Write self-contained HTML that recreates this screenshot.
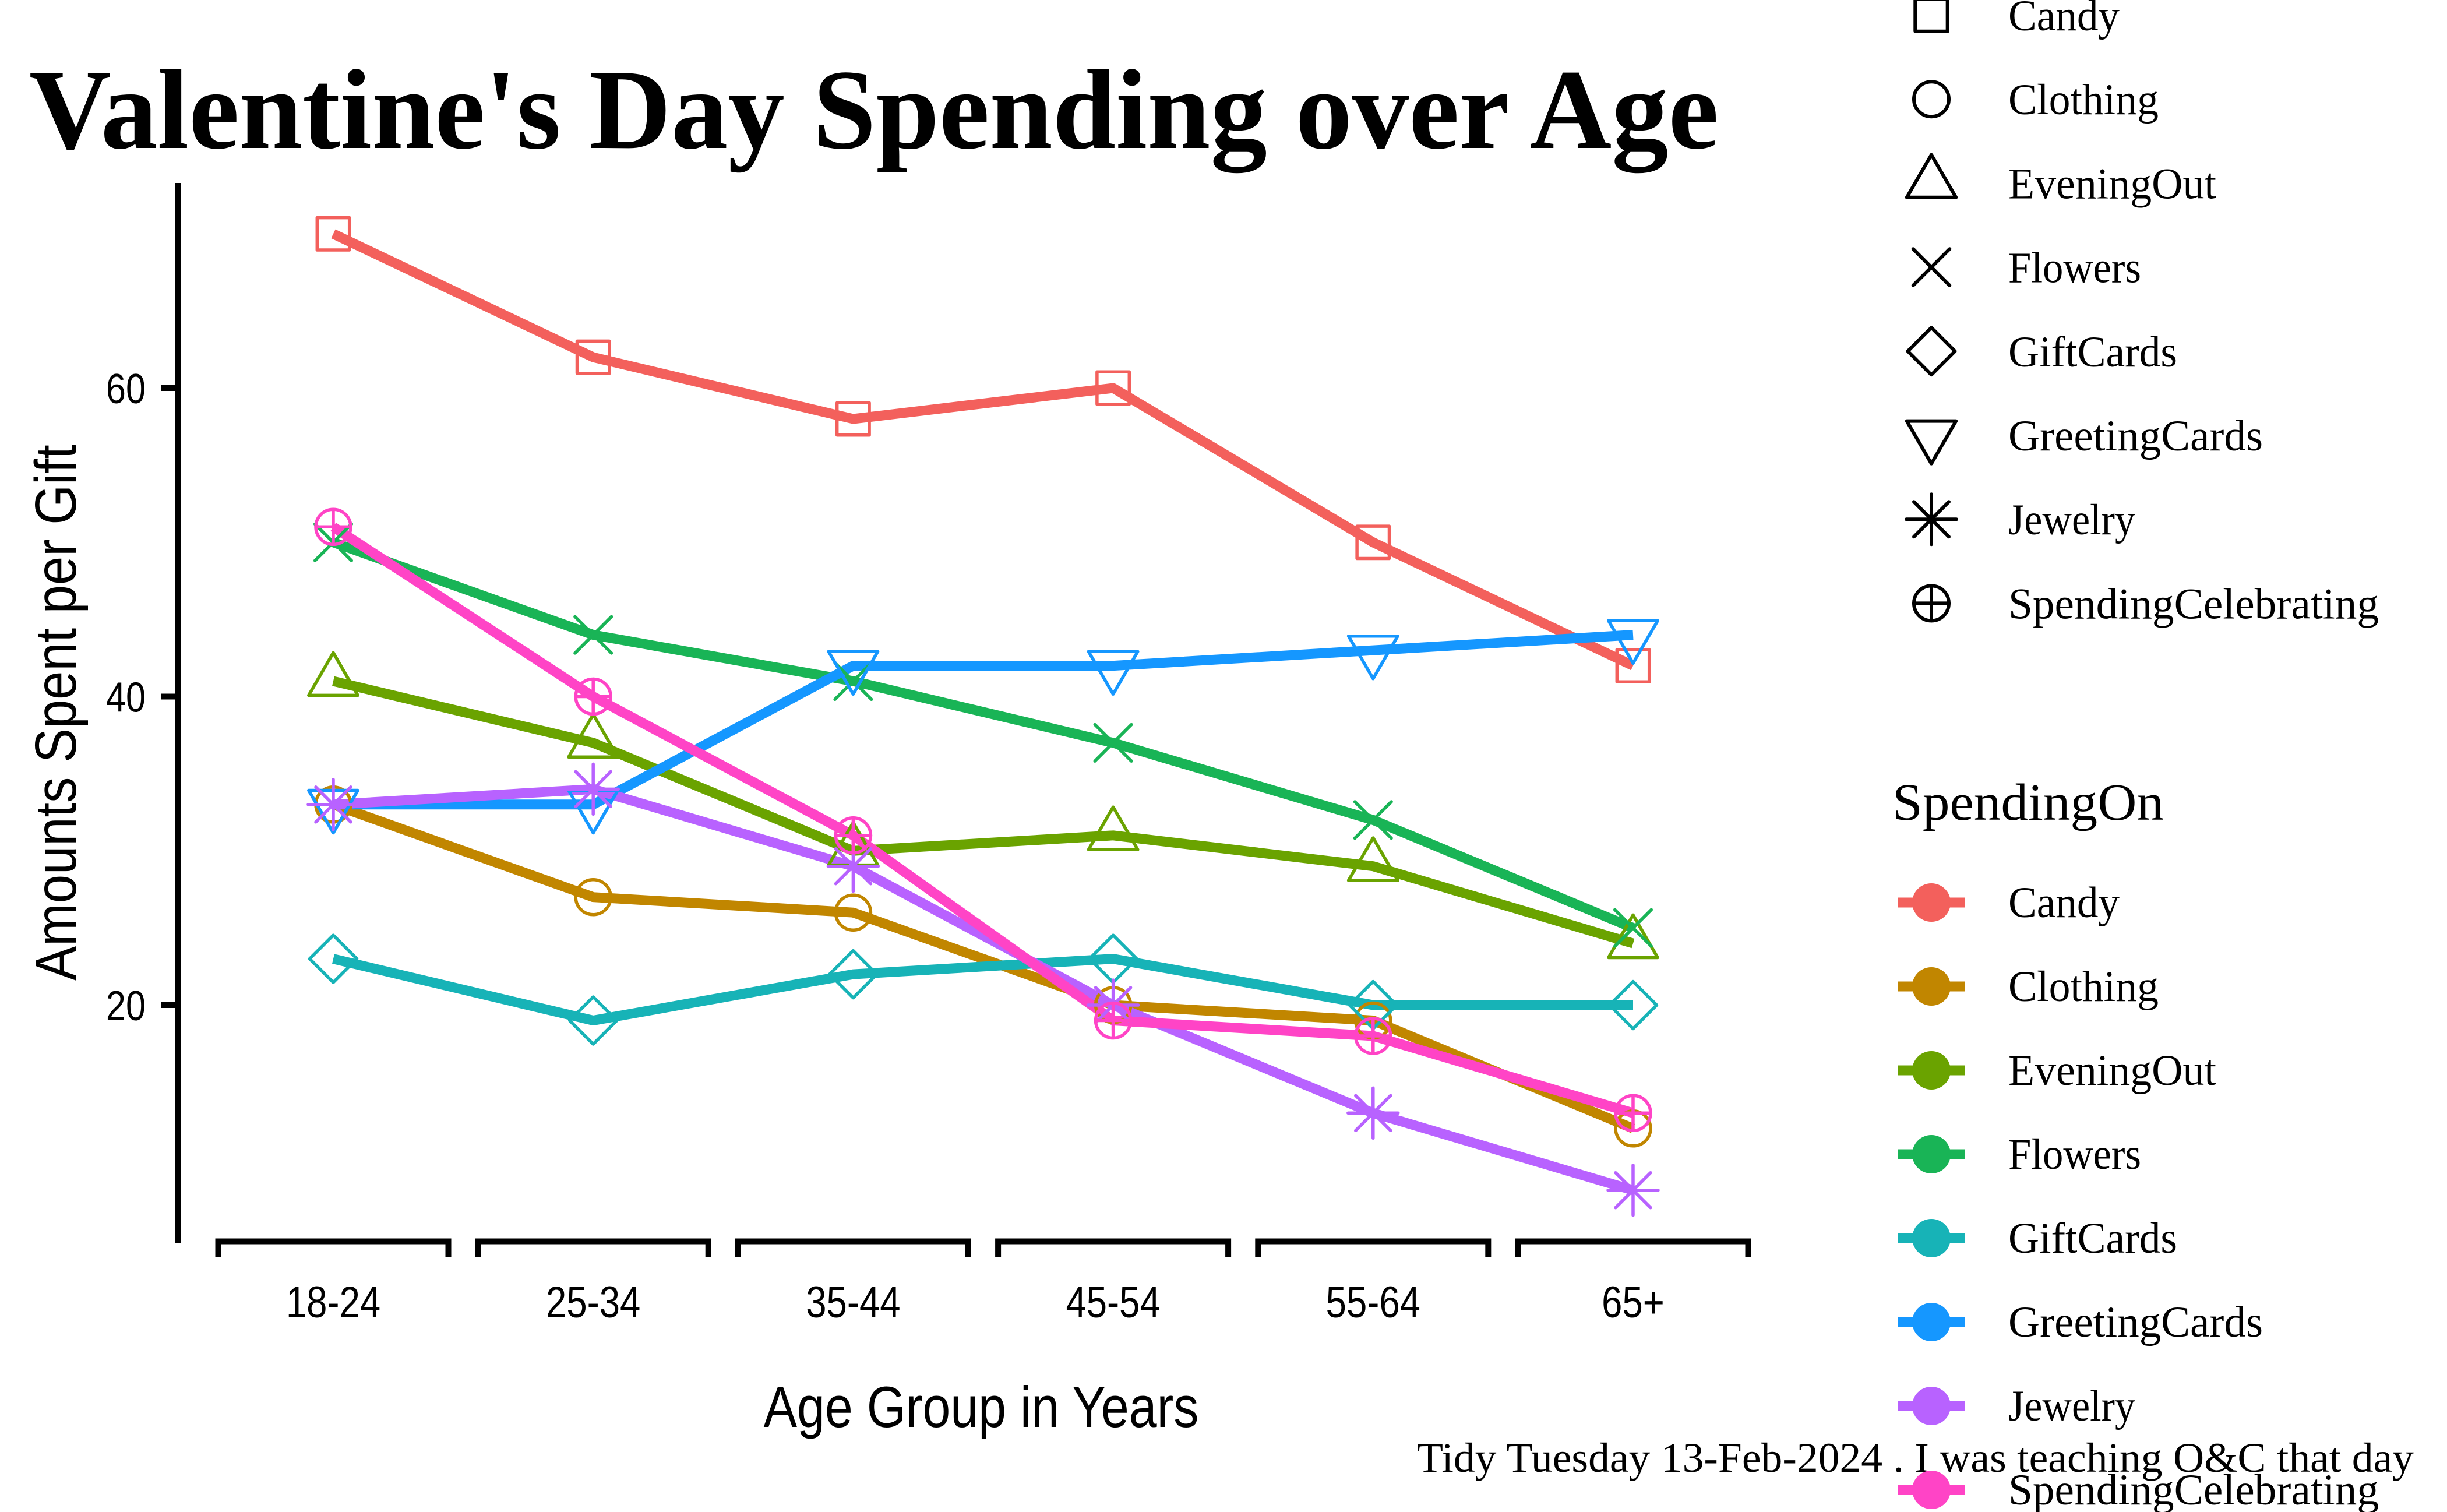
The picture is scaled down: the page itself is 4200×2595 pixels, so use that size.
<!DOCTYPE html>
<html>
<head>
<meta charset="utf-8">
<style>
  html,body{margin:0;padding:0;background:#ffffff;}
  svg{display:block;}
  .sans{font-family:"Liberation Sans",sans-serif;}
  .serif{font-family:"Liberation Serif",serif;}
</style>
</head>
<body>
<svg xmlns="http://www.w3.org/2000/svg" width="4200" height="2595" viewBox="0 0 4200 2595">
  <rect x="0" y="0" width="4200" height="2595" fill="#ffffff"/>
  <defs>
    <rect id="m0" x="-27.7" y="-27.7" width="55.4" height="55.4"/>
    <circle id="m1" cx="0" cy="0" r="30"/>
    <path id="m2" d="M0,-48.7 L42.2,24.35 L-42.2,24.35 Z"/>
    <path id="m4" d="M-31.3,-31.3 L31.3,31.3 M-31.3,31.3 L31.3,-31.3"/>
    <path id="m5" d="M0,-40.5 L40.5,0 L0,40.5 L-40.5,0 Z"/>
    <path id="m6" d="M0,48.7 L42.2,-24.35 L-42.2,-24.35 Z"/>
    <path id="m8" d="M-30,-30 L30,30 M-30,30 L30,-30 M-43,0 L43,0 M0,-43 L0,43"/>
    <g id="m10"><circle cx="0" cy="0" r="30"/><path d="M-30,0 L30,0 M0,-30 L0,30"/></g>
  </defs>

  <!-- Title -->
  <text class="serif" x="50" y="254" font-size="196" font-weight="bold" fill="#000" textLength="2900" lengthAdjust="spacingAndGlyphs">Valentine's Day Spending over Age</text>

  <!-- Y axis -->
  <line x1="306" y1="314" x2="306" y2="2133" stroke="#000" stroke-width="10"/>
  <g stroke="#000" stroke-width="10">
    <line x1="277" y1="666" x2="306" y2="666"/>
    <line x1="277" y1="1195.5" x2="306" y2="1195.5"/>
    <line x1="277" y1="1725" x2="306" y2="1725"/>
  </g>
  <g class="sans" font-size="72" fill="#000" text-anchor="end">
    <text transform="translate(250,692) scale(0.85,1)">60</text>
    <text transform="translate(250,1221.5) scale(0.85,1)">40</text>
    <text transform="translate(250,1751) scale(0.85,1)">20</text>
  </g>
  <text class="sans" font-size="100" fill="#000" text-anchor="middle" transform="translate(130,1223) rotate(-90) scale(0.885,1)">Amounts Spent per Gift</text>

  <!-- X axis brackets -->
  <g fill="none" stroke="#000" stroke-width="10" stroke-linejoin="miter">
    <path d="M374.5,2157.6 V2130.5 H769.5 V2157.6"/>
    <path d="M820.7,2157.6 V2130.5 H1215.7 V2157.6"/>
    <path d="M1266.9,2157.6 V2130.5 H1661.9 V2157.6"/>
    <path d="M1713.1,2157.6 V2130.5 H2108.1 V2157.6"/>
    <path d="M2159.3,2157.6 V2130.5 H2554.3 V2157.6"/>
    <path d="M2605.5,2157.6 V2130.5 H3000.5 V2157.6"/>
  </g>
  <g class="sans" font-size="76" fill="#000" text-anchor="middle">
    <text transform="translate(572,2261) scale(0.835,1)">18-24</text>
    <text transform="translate(1018.2,2261) scale(0.835,1)">25-34</text>
    <text transform="translate(1464.4,2261) scale(0.835,1)">35-44</text>
    <text transform="translate(1910.6,2261) scale(0.835,1)">45-54</text>
    <text transform="translate(2356.8,2261) scale(0.835,1)">55-64</text>
    <text transform="translate(2803,2261) scale(0.835,1)">65+</text>
  </g>
  <text class="sans" font-size="99" fill="#000" text-anchor="middle" transform="translate(1684,2449) scale(0.87,1)">Age Group in Years</text>

  <!-- Lines -->
  <g fill="none" stroke-width="17" stroke-linecap="butt" stroke-linejoin="round">
    <polyline stroke="#F3605C" points="572,401.3 1018.2,613.1 1464.4,719 1910.6,666 2356.8,930.8 2803,1142.6"/>
    <polyline stroke="#C18600" points="572,1380.8 1018.2,1539.7 1464.4,1566.2 1910.6,1725 2356.8,1751.5 2803,1936.8"/>
    <polyline stroke="#6AA300" points="572,1169 1018.2,1274.9 1464.4,1460.3 1910.6,1433.8 2356.8,1486.7 2803,1619.1"/>
    <polyline stroke="#19B456" points="572,930.8 1018.2,1089.6 1464.4,1169 1910.6,1274.9 2356.8,1407.3 2803,1592.6"/>
    <polyline stroke="#17B3B7" points="572,1645.6 1018.2,1751.5 1464.4,1672.1 1910.6,1645.6 2356.8,1725 2803,1725"/>
    <polyline stroke="#1597FF" points="572,1380.8 1018.2,1380.8 1464.4,1142.6 1910.6,1142.6 2356.8,1116.1 2803,1089.6"/>
    <polyline stroke="#B862FF" points="572,1380.8 1018.2,1354.4 1464.4,1486.7 1910.6,1725 2356.8,1910.3 2803,2042.7"/>
    <polyline stroke="#FF44C6" points="572,904.3 1018.2,1195.5 1464.4,1433.8 1910.6,1751.5 2356.8,1778 2803,1910.3"/>
  </g>

  <!-- Points -->
  <g fill="none" stroke-width="5.5" stroke-linecap="round" stroke-linejoin="round">
    <g stroke="#F3605C">
      <use href="#m0" x="572" y="401.3"/><use href="#m0" x="1018.2" y="613.1"/><use href="#m0" x="1464.4" y="719"/>
      <use href="#m0" x="1910.6" y="666"/><use href="#m0" x="2356.8" y="930.8"/><use href="#m0" x="2803" y="1142.6"/>
    </g>
    <g stroke="#C18600">
      <use href="#m1" x="572" y="1380.8"/><use href="#m1" x="1018.2" y="1539.7"/><use href="#m1" x="1464.4" y="1566.2"/>
      <use href="#m1" x="1910.6" y="1725"/><use href="#m1" x="2356.8" y="1751.5"/><use href="#m1" x="2803" y="1936.8"/>
    </g>
    <g stroke="#6AA300">
      <use href="#m2" x="572" y="1169"/><use href="#m2" x="1018.2" y="1274.9"/><use href="#m2" x="1464.4" y="1460.3"/>
      <use href="#m2" x="1910.6" y="1433.8"/><use href="#m2" x="2356.8" y="1486.7"/><use href="#m2" x="2803" y="1619.1"/>
    </g>
    <g stroke="#19B456">
      <use href="#m4" x="572" y="930.8"/><use href="#m4" x="1018.2" y="1089.6"/><use href="#m4" x="1464.4" y="1169"/>
      <use href="#m4" x="1910.6" y="1274.9"/><use href="#m4" x="2356.8" y="1407.3"/><use href="#m4" x="2803" y="1592.6"/>
    </g>
    <g stroke="#17B3B7">
      <use href="#m5" x="572" y="1645.6"/><use href="#m5" x="1018.2" y="1751.5"/><use href="#m5" x="1464.4" y="1672.1"/>
      <use href="#m5" x="1910.6" y="1645.6"/><use href="#m5" x="2356.8" y="1725"/><use href="#m5" x="2803" y="1725"/>
    </g>
    <g stroke="#1597FF">
      <use href="#m6" x="572" y="1380.8"/><use href="#m6" x="1018.2" y="1380.8"/><use href="#m6" x="1464.4" y="1142.6"/>
      <use href="#m6" x="1910.6" y="1142.6"/><use href="#m6" x="2356.8" y="1116.1"/><use href="#m6" x="2803" y="1089.6"/>
    </g>
    <g stroke="#B862FF">
      <use href="#m8" x="572" y="1380.8"/><use href="#m8" x="1018.2" y="1354.4"/><use href="#m8" x="1464.4" y="1486.7"/>
      <use href="#m8" x="1910.6" y="1725"/><use href="#m8" x="2356.8" y="1910.3"/><use href="#m8" x="2803" y="2042.7"/>
    </g>
    <g stroke="#FF44C6">
      <use href="#m10" x="572" y="904.3"/><use href="#m10" x="1018.2" y="1195.5"/><use href="#m10" x="1464.4" y="1433.8"/>
      <use href="#m10" x="1910.6" y="1751.5"/><use href="#m10" x="2356.8" y="1778"/><use href="#m10" x="2803" y="1910.3"/>
    </g>
  </g>

  <!-- Caption (drawn before legend) -->
  <text class="serif" x="4143" y="2526" font-size="72" fill="#000" text-anchor="end" textLength="1711" lengthAdjust="spacingAndGlyphs">Tidy Tuesday 13-Feb-2024 . I was teaching O&amp;C that day</text>

  <!-- Shape legend -->
  <g fill="none" stroke="#000" stroke-width="6" stroke-linecap="round" stroke-linejoin="round">
    <use href="#m0" x="3315" y="26"/>
    <use href="#m1" x="3315" y="170.2"/>
    <use href="#m2" x="3315" y="314.4"/>
    <use href="#m4" x="3315" y="458.6"/>
    <use href="#m5" x="3315" y="602.8"/>
    <use href="#m6" x="3315" y="747"/>
    <use href="#m8" x="3315" y="891.2"/>
    <use href="#m10" x="3315" y="1035.4"/>
  </g>
  <g class="serif" font-size="75" fill="#000">
    <text x="3447" y="52" textLength="191" lengthAdjust="spacingAndGlyphs">Candy</text>
    <text x="3447" y="196.2" textLength="258" lengthAdjust="spacingAndGlyphs">Clothing</text>
    <text x="3447" y="340.4" textLength="357" lengthAdjust="spacingAndGlyphs">EveningOut</text>
    <text x="3447" y="484.6" textLength="228" lengthAdjust="spacingAndGlyphs">Flowers</text>
    <text x="3447" y="628.8" textLength="290" lengthAdjust="spacingAndGlyphs">GiftCards</text>
    <text x="3447" y="773" textLength="437" lengthAdjust="spacingAndGlyphs">GreetingCards</text>
    <text x="3447" y="917.2" textLength="218" lengthAdjust="spacingAndGlyphs">Jewelry</text>
    <text x="3447" y="1061.4" textLength="636" lengthAdjust="spacingAndGlyphs">SpendingCelebrating</text>
  </g>

  <!-- Colour legend -->
  <text class="serif" x="3248" y="1407" font-size="90" fill="#000" textLength="466" lengthAdjust="spacingAndGlyphs">SpendingOn</text>
  <g stroke-width="17">
    <line x1="3257" y1="1549" x2="3373" y2="1549" stroke="#F3605C"/><circle cx="3315" cy="1549" r="33" fill="#F3605C"/>
    <line x1="3257" y1="1693" x2="3373" y2="1693" stroke="#C18600"/><circle cx="3315" cy="1693" r="33" fill="#C18600"/>
    <line x1="3257" y1="1837" x2="3373" y2="1837" stroke="#6AA300"/><circle cx="3315" cy="1837" r="33" fill="#6AA300"/>
    <line x1="3257" y1="1981" x2="3373" y2="1981" stroke="#19B456"/><circle cx="3315" cy="1981" r="33" fill="#19B456"/>
    <line x1="3257" y1="2125" x2="3373" y2="2125" stroke="#17B3B7"/><circle cx="3315" cy="2125" r="33" fill="#17B3B7"/>
    <line x1="3257" y1="2269" x2="3373" y2="2269" stroke="#1597FF"/><circle cx="3315" cy="2269" r="33" fill="#1597FF"/>
    <line x1="3257" y1="2413" x2="3373" y2="2413" stroke="#B862FF"/><circle cx="3315" cy="2413" r="33" fill="#B862FF"/>
    <line x1="3257" y1="2557" x2="3373" y2="2557" stroke="#FF44C6"/><circle cx="3315" cy="2557" r="33" fill="#FF44C6"/>
  </g>
  <g class="serif" font-size="75" fill="#000">
    <text x="3447" y="1574" textLength="191" lengthAdjust="spacingAndGlyphs">Candy</text>
    <text x="3447" y="1718" textLength="258" lengthAdjust="spacingAndGlyphs">Clothing</text>
    <text x="3447" y="1862" textLength="357" lengthAdjust="spacingAndGlyphs">EveningOut</text>
    <text x="3447" y="2006" textLength="228" lengthAdjust="spacingAndGlyphs">Flowers</text>
    <text x="3447" y="2150" textLength="290" lengthAdjust="spacingAndGlyphs">GiftCards</text>
    <text x="3447" y="2294" textLength="437" lengthAdjust="spacingAndGlyphs">GreetingCards</text>
    <text x="3447" y="2438" textLength="218" lengthAdjust="spacingAndGlyphs">Jewelry</text>
    <text x="3447" y="2582" textLength="636" lengthAdjust="spacingAndGlyphs">SpendingCelebrating</text>
  </g>
</svg>
</body>
</html>
